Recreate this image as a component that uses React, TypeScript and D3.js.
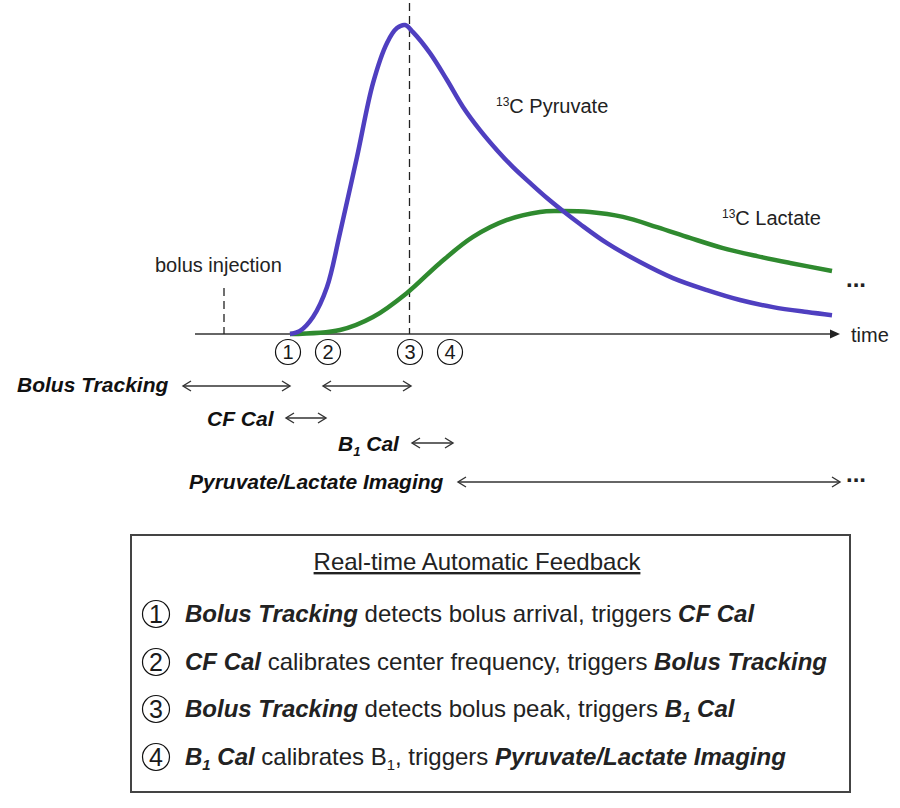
import React from 'react'
import * as d3 from 'd3'

// signal curves (time in arbitrary units after bolus arrival, normalised signal)
const pyruvateT = [0, 1, 2.3, 3.7, 5, 6.7, 8.3, 9.7, 10.7, 11.5, 12.3, 14, 15.7, 17.3, 19, 20.7, 22.3, 24, 25.7, 27.3, 29, 31.7, 35, 38.3, 41.7, 45, 48.3, 51.7, 54.2]
const pyruvateV = [0, 0.01, 0.055, 0.152, 0.327, 0.573, 0.812, 0.942, 0.99, 1.0, 0.977, 0.909, 0.822, 0.735, 0.66, 0.595, 0.54, 0.489, 0.44, 0.398, 0.356, 0.294, 0.233, 0.181, 0.142, 0.11, 0.087, 0.071, 0.061]
const lactateT = [0, 5, 8.3, 11.7, 15, 18.3, 21.7, 25, 26.7, 30, 33.3, 36.7, 40, 43.3, 46.7, 50, 54.2]
const lactateV = [0, 0.013, 0.055, 0.133, 0.23, 0.314, 0.369, 0.395, 0.398, 0.395, 0.379, 0.346, 0.311, 0.278, 0.252, 0.23, 0.204]

const injectionT = -6.6
const peakT = 12

const eventLabels = ['1', '2', '3', '4']
const eventT = [-0.2, 3.8, 12, 16]

const phaseNames = ['Bolus Tracking', 'CF Cal', 'B1 Cal', 'Pyruvate/Lactate Imaging']
const segPhase = [0, 0, 1, 2, 3]
const segStart = [-10.7, 3.3, -0.4, 12.2, 16.8]
const segEnd = [0, 12.1, 3.6, 16.3, 55]

const FONT = "'Liberation Sans', Arial, Helvetica, sans-serif"
const INK = '#222'

const x = d3.scaleLinear().domain([-9.5, 55]).range([195, 840])
const y = d3.scaleLinear().domain([0, 1]).range([334, 25])

const line = d3.line<[number, number]>()
    .x(d => x(d[0]))
    .y(d => y(d[1]))
    .curve(d3.curveCatmullRom.alpha(0.5))

// "B" with subscript 1 then the rest
const B1 = ({ fs, rest }: { fs: number, rest: string }) => (
    <>B<tspan fontSize={fs * 0.62} dy={fs * 0.22}>1</tspan><tspan dy={-fs * 0.22}>{rest}</tspan></>
)

const DoubleArrow = ({ x1, x2, yy }: { x1: number, x2: number, yy: number }) => {
    const h = 8, w = 5
    return (
        <g stroke="#333" strokeWidth={1.4} fill="none">
            <line x1={x1} x2={x2} y1={yy} y2={yy} />
            <path d={`M${x1 + h},${yy - w}L${x1},${yy}L${x1 + h},${yy + w}`} />
            <path d={`M${x2 - h},${yy - w}L${x2},${yy}L${x2 - h},${yy + w}`} />
        </g>
    )
}

const Circled = ({ cx, cy, r, label, fs }: { cx: number, cy: number, r: number, label: string, fs: number }) => (
    <g>
        <circle cx={cx} cy={cy} r={r} fill="white" stroke="#111" strokeWidth={1.2} />
        <text x={cx} y={cy} dy="0.36em" textAnchor="middle" fontSize={fs} fill="#1a1a1a">{label}</text>
    </g>
)

const feedbackY = [622, 670, 717, 765]
const BOX_FS = 24

export default function App() {
    const pyr = pyruvateT.map((t, i) => [t, pyruvateV[i]] as [number, number])
    const lac = lactateT.map((t, i) => [t, lactateV[i]] as [number, number])
    const labelY = [392, 426, 451, 489]
    const arrowY = [386, 418, 443, 482]
    const labelX = [17, 207, 338, 189]
    const bi = { fontWeight: 'bold', fontStyle: 'italic' } as const

    return (
        <svg width={900} height={808} style={{ position: 'absolute', left: 0, top: 0, background: 'white' }}
            fontFamily={FONT}>
            {/* time axis */}
            <line x1={x(-9.5)} x2={x(55) - 8} y1={y(0)} y2={y(0)} stroke="#333" strokeWidth={1.5} />
            <path d={`M${x(55)},${y(0)}L${x(55) - 10},${y(0) - 4.5}L${x(55) - 10},${y(0) + 4.5}Z`} fill="#222" />
            <text x={851} y={342} fontSize={20} fill={INK}>time</text>

            {/* injection + peak markers */}
            <line x1={x(injectionT)} x2={x(injectionT)} y1={288} y2={y(0)} stroke="#222" strokeWidth={1.3} strokeDasharray="8,5" />
            <text x={155} y={272} fontSize={20} fill={INK}>bolus injection</text>
            <line x1={x(peakT) - 0.5} x2={x(peakT) - 0.5} y1={3} y2={y(0)} stroke="#222" strokeWidth={1.3} strokeDasharray="8,5" />

            {/* curves */}
            <path d={line(lac) ?? ''} fill="none" stroke="#2f8a2f" strokeWidth={4.5} />
            <path d={line(pyr) ?? ''} fill="none" stroke="#4f3fc0" strokeWidth={4.5} />

            <text x={496} y={113} fontSize={20} fill={INK}><tspan fontSize={12} dy={-7}>13</tspan><tspan dy={7}>C Pyruvate</tspan></text>
            <text x={722} y={225} fontSize={20} fill={INK}><tspan fontSize={12} dy={-7}>13</tspan><tspan dy={7}>C Lactate</tspan></text>
            <text x={846} y={287} fontSize={24} fontWeight="bold" fill={INK}>...</text>

            {/* event markers */}
            {eventLabels.map((l, i) => (
                <Circled key={l} cx={x(eventT[i])} cy={352} r={12.5} label={l} fs={20} />
            ))}

            {/* protocol phases */}
            {phaseNames.map((n, i) => (
                <text key={n} x={labelX[i]} y={labelY[i]} fontSize={21} {...bi} fill="#111">
                    {n === 'B1 Cal' ? <B1 fs={21} rest=" Cal" /> : n}
                </text>
            ))}
            {segPhase.map((p, i) => (
                <DoubleArrow key={i} x1={x(segStart[i])} x2={x(segEnd[i])} yy={arrowY[p]} />
            ))}
            <text x={846} y={482} fontSize={24} fontWeight="bold" fill={INK}>...</text>

            {/* feedback box */}
            <rect x={131} y={535} width={719} height={257} fill="white" stroke="#444" strokeWidth={2} />
            <text x={477} y={570} fontSize={BOX_FS} textAnchor="middle" fill={INK} textDecoration="underline">Real-time Automatic Feedback</text>
            {eventLabels.map((l, i) => (
                <Circled key={'f' + l} cx={156} cy={feedbackY[i] - 8} r={13.5} label={l} fs={25} />
            ))}
            <text x={185} y={feedbackY[0]} fontSize={BOX_FS} fill={INK}>
                <tspan {...bi}>Bolus Tracking</tspan> detects bolus arrival, triggers <tspan {...bi}>CF Cal</tspan>
            </text>
            <text x={185} y={feedbackY[1]} fontSize={BOX_FS} fill={INK}>
                <tspan {...bi}>CF Cal</tspan> calibrates center frequency, triggers <tspan {...bi}>Bolus Tracking</tspan>
            </text>
            <text x={185} y={feedbackY[2]} fontSize={BOX_FS} fill={INK}>
                <tspan {...bi}>Bolus Tracking</tspan> detects bolus peak, triggers <tspan {...bi}><B1 fs={BOX_FS} rest=" Cal" /></tspan>
            </text>
            <text x={185} y={feedbackY[3]} fontSize={BOX_FS} fill={INK}>
                <tspan {...bi}><B1 fs={BOX_FS} rest=" Cal" /></tspan> calibrates <B1 fs={BOX_FS} rest=", triggers " /><tspan {...bi}>Pyruvate/Lactate Imaging</tspan>
            </text>
        </svg>
    )
}
